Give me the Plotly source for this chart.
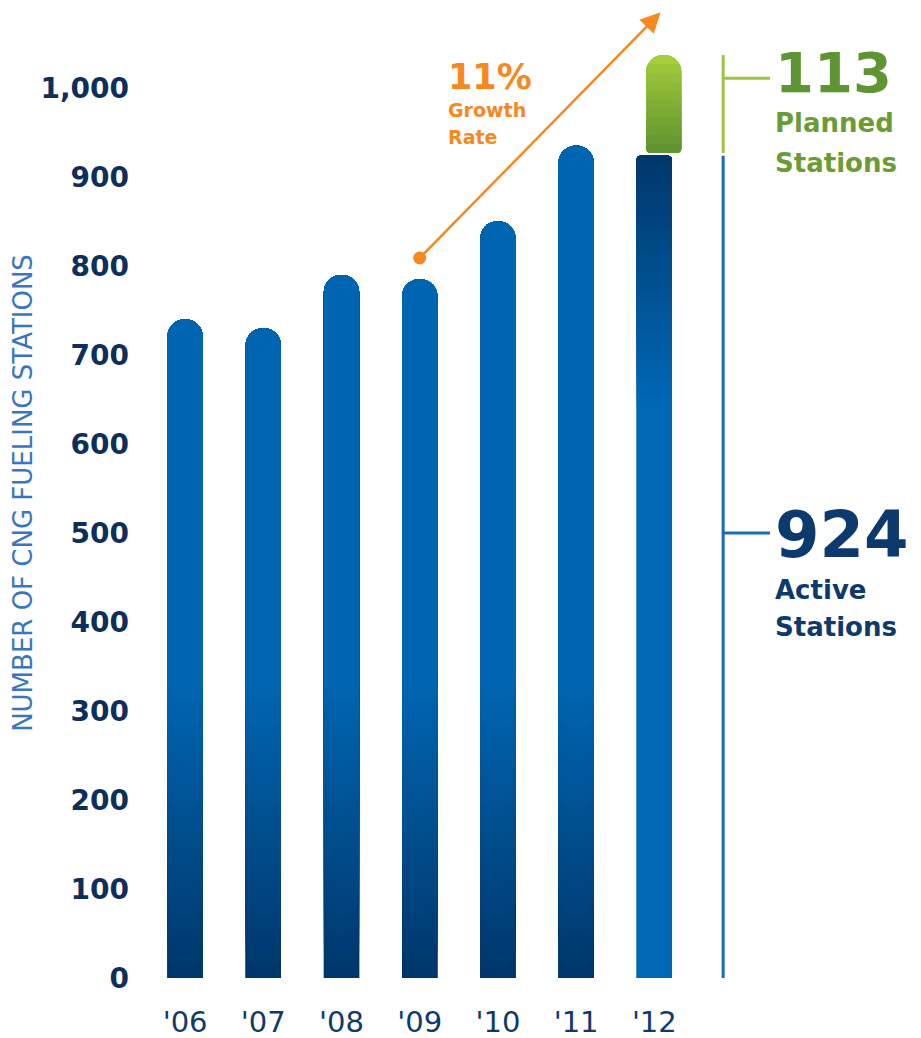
import plotly.graph_objects as go

# ---------------- data ----------------
years = ["'06", "'07", "'08", "'09", "'10", "'11", "'12"]
stations_hist = [740, 730, 790, 785, 850, 935]      # '06 - '11
active_2012 = 924
planned_2012 = 113
growth_pct = "11%"
y_tick_vals = [0, 100, 200, 300, 400, 500, 600, 700, 800, 900, 1000]
arrow_start_value = 809    # orange dot above '09
arrow_end_value = 1085

# ---------------- styles ----------------
BLUE = (0, 102, 178)
BLUE12 = (0, 104, 181)
NAVY = (0, 55, 107)
GREEN_DARK = (92, 145, 48)
GREEN_LIGHT = (166, 205, 58)
ORANGE = "#f7881f"
TEXT_NAVY = "#0d2f5c"
TITLE_BLUE = "#3a76c0"
FONT = "DejaVu Sans"
BAR_W = 0.45
STEP = 10
UNDERLAYS = 4   # repeated base layers keep the anti-aliased edges even


def mix(c1, c2, t):
    t = max(0.0, min(1.0, t))
    r, g, b = (round(a + (b_ - a) * t) for a, b_ in zip(c1, c2))
    return f"rgb({r},{g},{b})"


def bar(**kw):
    return go.Bar(showlegend=False, hoverinfo="skip", **kw)


fig = go.Figure()
hist_x = list(range(len(stations_hist)))

# historic bars: navy (bottom) -> blue (from ~330 upward); every layer runs to the rounded top
GRAD_TOP = 330
for _ in range(UNDERLAYS):
    fig.add_trace(bar(x=hist_x, y=stations_hist, width=BAR_W,
                      marker=dict(color=mix(NAVY, NAVY, 0), line=dict(width=0), cornerradius="50%")))
level = STEP
while level < GRAD_TOP:
    fig.add_trace(bar(x=hist_x, y=[v - level for v in stations_hist], base=[level] * len(hist_x),
                      width=BAR_W,
                      marker=dict(color=mix(NAVY, BLUE, (level + STEP / 2) / GRAD_TOP),
                                  line=dict(width=0), cornerradius="50%")))
    level += STEP

# 2012 active: lighter blue below, darkening toward the top
x12 = len(years) - 1
SPAN = 280
for _ in range(UNDERLAYS):
    fig.add_trace(bar(x=[x12], y=[active_2012], width=BAR_W,
                      marker=dict(color=mix(BLUE12, BLUE12, 0), line=dict(width=0), cornerradius=4)))
level = active_2012 - SPAN
while level < active_2012:
    fig.add_trace(bar(x=[x12], y=[active_2012 - level], base=[level], width=BAR_W,
                      marker=dict(color=mix(BLUE12, NAVY, (level + STEP / 2 - (active_2012 - SPAN)) / SPAN),
                                  line=dict(width=0), cornerradius=4)))
    level += STEP

# 2012 planned (green), sitting on top of the active bar
GAP = 3
OFFSET = -BAR_W / 2 + 0.12
g0 = active_2012 + GAP
gtop = active_2012 + planned_2012
for _ in range(UNDERLAYS):
    fig.add_trace(bar(x=[x12], y=[gtop - g0], base=[g0], width=BAR_W, offset=OFFSET,
                      marker=dict(color=mix(GREEN_LIGHT, GREEN_LIGHT, 0), line=dict(width=0),
                                  cornerradius="50%")))
top = gtop - STEP
while top > g0:
    fig.add_trace(bar(x=[x12], y=[top - g0], base=[g0], width=BAR_W, offset=OFFSET,
                      marker=dict(color=mix(GREEN_DARK, GREEN_LIGHT, (top - g0 - STEP / 2) / (gtop - g0)),
                                  line=dict(width=0), cornerradius=5)))
    top -= STEP

# orange dot at the start of the growth arrow
fig.add_trace(go.Scatter(x=[3], y=[arrow_start_value], mode="markers",
                         marker=dict(color=ORANGE, size=13), showlegend=False, hoverinfo="skip"))

# bracket lines on the right
BX = 6.88
BX2 = 7.48
shapes = [
    dict(type="line", xref="x", yref="y", x0=BX, x1=BX, y0=g0, y1=gtop,
         line=dict(color="#9cc33c", width=3)),
    dict(type="line", xref="x", yref="y", x0=BX, x1=BX2, y0=1011, y1=1011,
         line=dict(color="#9cc33c", width=3)),
    dict(type="line", xref="x", yref="y", x0=BX, x1=BX, y0=0, y1=active_2012,
         line=dict(color="#1a6cb5", width=3)),
    dict(type="line", xref="x", yref="y", x0=BX, x1=BX2, y0=500, y1=500,
         line=dict(color="#1a6cb5", width=3)),
]

TX = 7.52
annotations = [
    # growth arrow
    dict(x=6.08, y=arrow_end_value, ax=3, ay=arrow_start_value, xref="x", yref="y",
         axref="x", ayref="y", showarrow=True, arrowhead=2, arrowsize=1.6,
         arrowwidth=2.5, arrowcolor=ORANGE, text="", standoff=0, startstandoff=0),
    dict(x=3.33, y=1012, xref="x", yref="y", text=growth_pct, showarrow=False,
         xanchor="left", yanchor="middle", font=dict(family=FONT, size=35, color=ORANGE, weight="bold")),
    dict(x=3.33, y=975, xref="x", yref="y", text="Growth", showarrow=False,
         xanchor="left", yanchor="middle", font=dict(family=FONT, size=19, color=ORANGE, weight="bold")),
    dict(x=3.33, y=945, xref="x", yref="y", text="Rate", showarrow=False,
         xanchor="left", yanchor="middle", font=dict(family=FONT, size=19, color=ORANGE, weight="bold")),
    # planned
    dict(x=TX, y=1017, xref="x", yref="y", text=str(planned_2012), showarrow=False,
         xanchor="left", yanchor="middle", font=dict(family=FONT, size=56, color="#5e9432", weight="bold")),
    dict(x=TX, y=961, xref="x", yref="y", text="Planned", showarrow=False,
         xanchor="left", yanchor="middle", font=dict(family=FONT, size=26, color="#6a9c36", weight="bold")),
    dict(x=TX, y=916, xref="x", yref="y", text="Stations", showarrow=False,
         xanchor="left", yanchor="middle", font=dict(family=FONT, size=26, color="#6a9c36", weight="bold")),
    # active
    dict(x=TX, y=498, xref="x", yref="y", text=str(active_2012), showarrow=False,
         xanchor="left", yanchor="middle", font=dict(family=FONT, size=64, color="#0d3a6c", weight="bold")),
    dict(x=TX, y=436, xref="x", yref="y", text="Active", showarrow=False,
         xanchor="left", yanchor="middle", font=dict(family=FONT, size=26, color="#0d3a6c", weight="bold")),
    dict(x=TX, y=394, xref="x", yref="y", text="Stations", showarrow=False,
         xanchor="left", yanchor="middle", font=dict(family=FONT, size=26, color="#0d3a6c", weight="bold")),
]

# the page body adds an 8px margin, so the figure is 8px smaller than the window
fig.update_layout(
    width=913, height=1030,
    margin=dict(l=138, r=0, t=0, b=60),
    paper_bgcolor="white", plot_bgcolor="white",
    barmode="overlay",
    shapes=shapes, annotations=annotations,
    xaxis=dict(range=[-0.5, 9.41], tickvals=list(range(len(years))), ticktext=years,
               showgrid=False, zeroline=False, showline=False, ticks="",
               ticklabelstandoff=24, automargin=False,
               tickfont=dict(family=FONT, size=29, color="#0f3a6a")),
    yaxis=dict(range=[0, 970 / 0.89], tickvals=y_tick_vals, tickformat=",",
               showgrid=False, zeroline=False, showline=False, ticks="",
               ticklabelstandoff=16, automargin=False,
               tickfont=dict(family=FONT, size=28, color=TEXT_NAVY, weight="bold"),
               title=dict(text="NUMBER OF CNG FUELING STATIONS", standoff=0,
                          font=dict(family=FONT, size=26, color=TITLE_BLUE))),
)

fig.write_html("out.html")
